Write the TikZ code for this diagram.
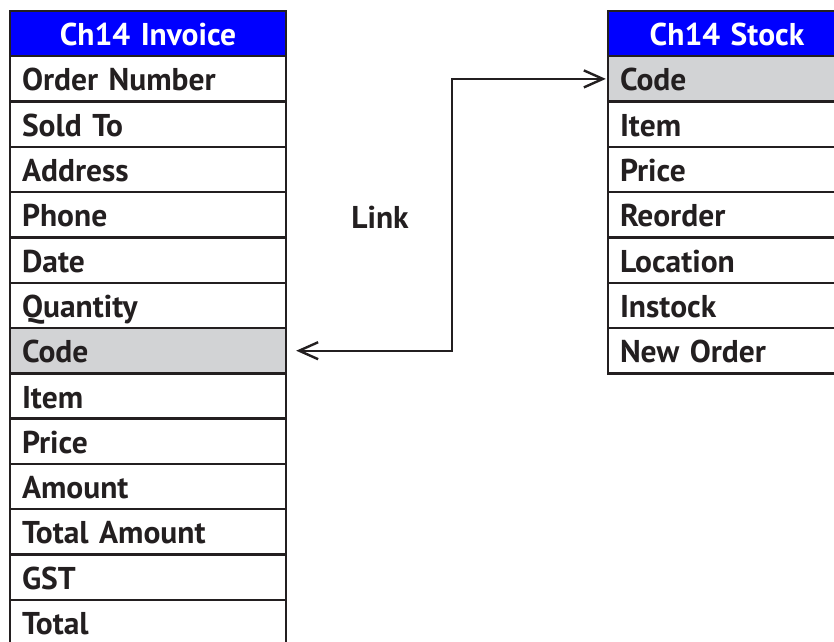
\documentclass[tikz,border=0pt]{standalone}
\usepackage{fontspec}
\setmainfont{PT Sans}
\usetikzlibrary{positioning,arrows.meta}
\definecolor{ink}{RGB}{35,31,32}
\definecolor{keygray}{RGB}{210,211,213}
\definecolor{headblue}{RGB}{0,0,255}
\tikzset{
	T row/.style={rectangle,draw=ink,line width=2.4pt,fill=white,text=ink,minimum width=276pt,minimum height=45.3pt,inner xsep=12pt,inner ysep=0pt,text width=252pt,text height=26pt,text depth=2pt,align=left,font=\fontsize{31.5}{34}\selectfont\bfseries},
	T head/.style={T row,fill=headblue,text=white,align=center},
	T key/.style={T row,fill=keygray},
	S row/.style={T row,minimum width=238pt,text width=214pt},
	S head/.style={T head,minimum width=238pt,text width=214pt},
	S key/.style={T key,minimum width=238pt,text width=214pt},
	link/.style={draw=ink,line width=2.4pt,{Straight Barb[length=19pt,width=17pt]}-{Straight Barb[length=19pt,width=17pt]}},
}

\begin{document}
\begin{tikzpicture}[x=1pt,y=-1pt]
			\clip (0,0) rectangle (834,641);
			\fill[white] (0,0) rectangle (834,641);

			% invoice table
			\node[T head] (iHead)  at (148, 33.6) {Ch14 Invoice};
			\node[T row]  (iOrder) at (148, 78.9) {Order Number};
			\node[T row]  (iSold)  at (148,124.2) {Sold To};
			\node[T row]  (iAddr)  at (148,169.5) {Address};
			\node[T row]  (iPhone) at (148,214.8) {Phone};
			\node[T row]  (iDate)  at (148,260.1) {Date};
			\node[T row]  (iQty)   at (148,305.4) {Quantity};
			\node[T key]  (iCode)  at (148,350.7) {Code};
			\node[T row]  (iItem)  at (148,396.0) {Item};
			\node[T row]  (iPrice) at (148,441.3) {Price};
			\node[T row]  (iAmt)   at (148,486.6) {Amount};
			\node[T row]  (iTotA)  at (148,531.9) {Total Amount};
			\node[T row]  (iGST)   at (148,577.2) {GST};
			\node[T row]  (iTotal) at (148,622.5) {Total};

			% stock table
			\node[S head] (sHead)  at (727, 33.6) {Ch14 Stock};
			\node[S key]  (sCode)  at (727, 78.9) {Code};
			\node[S row]  (sItem)  at (727,124.2) {Item};
			\node[S row]  (sPrice) at (727,169.5) {Price};
			\node[S row]  (sReord) at (727,214.8) {Reorder};
			\node[S row]  (sLoc)   at (727,260.1) {Location};
			\node[S row]  (sIn)    at (727,305.4) {Instock};
			\node[S row]  (sNew)   at (727,350.7) {New Order};

			\node[text=ink,font=\fontsize{31.5}{34}\selectfont\bfseries] (lnk) at (380,217) {Link};
			\coordinate (bend) at (452,215);

			\path[link, shorten <=9pt, shorten >=1pt]
				(iCode.east) -| (bend) |- (sCode.west);
		\end{tikzpicture}
\end{document}
